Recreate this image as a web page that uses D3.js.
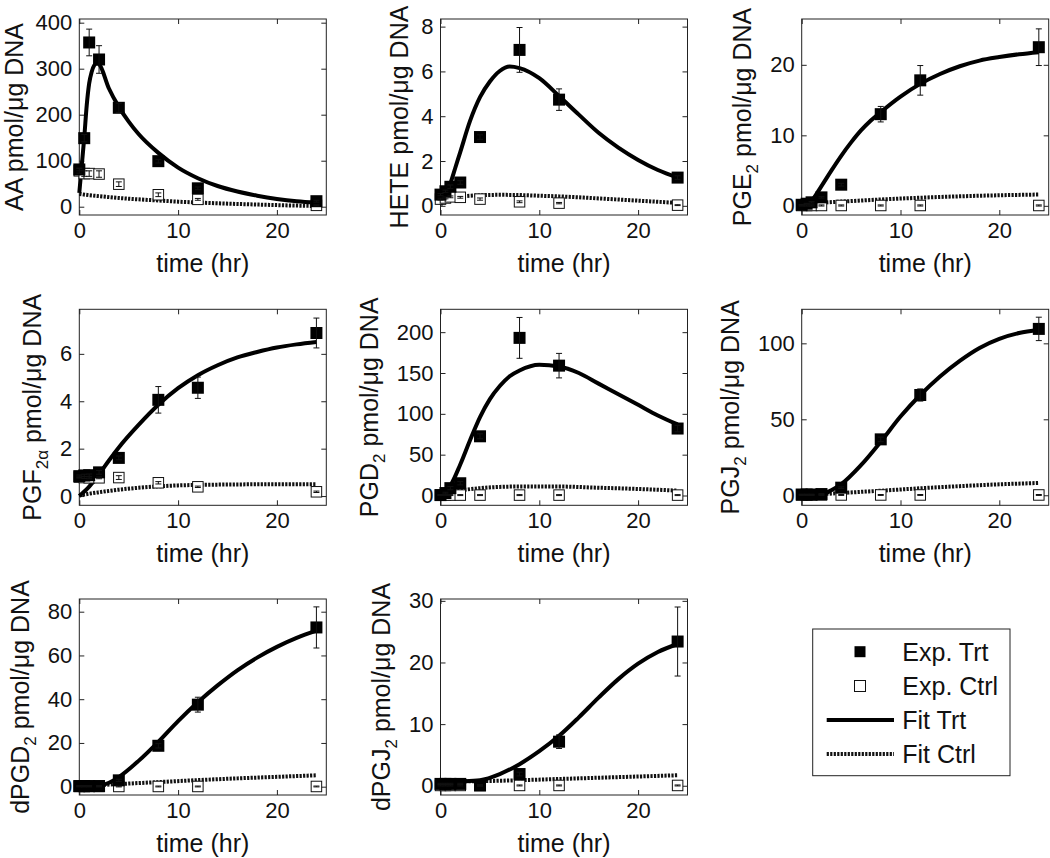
<!DOCTYPE html>
<html><head><meta charset="utf-8">
<script src="https://cdn.jsdelivr.net/npm/d3@7"></script>
<style>
html,body{margin:0;padding:0;background:#fff;}
svg{display:block;font-family:"Liberation Sans",Arial,Helvetica,sans-serif;}
</style></head><body>
<svg id="chart" width="1050" height="858"></svg>
<script>
// ---------------- DATA ----------------
const times = [0, 0.5, 1, 2, 4, 8, 12, 24];
const xTicks = [0, 10, 20];
const xDomain = [0, 25];

// AA
const aaTrt = [81, 149, 357, 320, 215, 99, 40, 12];
const aaTrtErr = [3, 8, 29, 30, 10, 4, 3, 2];
const aaCtrl = [78, 72, 72, 71, 49, 26, 16, 3];
const aaCtrlErr = [5, 6, 6, 7, 5, 4, 2, 1];
const aaFitTrt = [[0,30],[0.25,90],[0.5,150],[0.75,220],[1,268],[1.25,293],[1.5,307],[1.8,312],[2,310],[3,257],[4,217],[5,185],[6,158],[8,117],[10,85],[12,62],[14,45],[16,33],[18,24],[20,17],[22,12],[24,9]];
const aaFitCtrl = [[0,28],[1,25],[2,23],[4,19],[6,16],[8,13.5],[10,11],[12,9],[16,6],[20,3.5],[24,1.5]];
const aaYTicks = [0, 100, 200, 300, 400];
const aaYDomain = [-18, 408];

// HETE
const heteTrt = [0.5, 0.65, 0.85, 1.04, 3.07, 6.96, 4.74, 1.26];
const heteTrtErr = [0.05, 0.05, 0.08, 0.08, 0.1, 1.0, 0.48, 0.08];
const heteCtrl = [0.3, 0.35, 0.4, 0.38, 0.3, 0.18, 0.12, 0.03];
const heteCtrlErr = [0.04, 0.04, 0.04, 0.04, 0.05, 0.04, 0.03, 0.02];
const heteFitTrt = [[0,0.05],[0.5,0.4],[1,1.0],[1.5,1.7],[2,2.4],[3,3.8],[4,4.85],[5,5.55],[6,6.02],[7,6.22],[8,6.15],[10,5.7],[12,4.9],[14,4.07],[16,3.26],[18,2.6],[20,2.05],[22,1.6],[24,1.26]];
const heteFitCtrl = [[0,0.12],[0.5,0.25],[1,0.33],[2,0.41],[4,0.47],[6,0.49],[8,0.48],[10,0.45],[12,0.42],[16,0.33],[20,0.23],[24,0.13]];
const heteYTicks = [0, 2, 4, 6, 8];
const heteYDomain = [-0.41, 8.34];

// PGE2
const pge2Trt = [0.15, 0.3, 0.5, 1.2, 3.0, 13.0, 17.8, 22.5];
const pge2TrtErr = [0.05, 0.05, 0.1, 0.1, 0.2, 1.1, 2.1, 2.6];
const pge2Ctrl = [0.05, 0.05, 0.05, 0.05, 0.05, 0.05, 0.05, 0.05];
const pge2CtrlErr = [0.08, 0.08, 0.08, 0.08, 0.08, 0.08, 0.08, 0.08];
const pge2FitTrt = [[0,0],[0.5,0.1],[1,0.7],[2,2.8],[3,5.0],[4,7.1],[5,9.0],[6,10.7],[7,12.1],[8,13.3],[10,15.5],[12,17.3],[14,18.7],[16,19.8],[18,20.6],[20,21.1],[22,21.5],[24,21.8]];
const pge2FitCtrl = [[0,0.3],[4,0.6],[8,0.9],[12,1.15],[16,1.35],[20,1.5],[24,1.6]];
const pge2YTicks = [0, 10, 20];
const pge2YDomain = [-1.3, 26.5];

// PGF2a
const pgf2aTrt = [0.84, 0.87, 0.88, 1.0, 1.61, 4.06, 4.57, 6.88];
const pgf2aTrtErr = [0.05, 0.05, 0.05, 0.08, 0.08, 0.56, 0.45, 0.63];
const pgf2aCtrl = [0.8, 0.78, 0.77, 0.77, 0.78, 0.56, 0.39, 0.18];
const pgf2aCtrlErr = [0.04, 0.04, 0.04, 0.04, 0.08, 0.05, 0.03, 0.03];
const pgf2aFitTrt = [[0,0],[1,0.4],[2,0.92],[3,1.5],[4,2.05],[6,3.0],[8,3.85],[10,4.55],[12,5.1],[14,5.52],[16,5.85],[18,6.08],[20,6.27],[22,6.4],[24,6.5]];
const pgf2aFitCtrl = [[0,0.03],[1,0.1],[2,0.16],[4,0.27],[6,0.35],[8,0.41],[10,0.45],[12,0.47],[16,0.49],[20,0.5],[24,0.5]];
const pgf2aYTicks = [0, 2, 4, 6];
const pgf2aYDomain = [-0.39, 7.88];

// PGD2
const pgd2Trt = [0.5, 3, 9, 15, 72.5, 193, 159, 82];
const pgd2TrtErr = [0.5, 1, 2, 2, 3, 25, 15, 4];
const pgd2Ctrl = [0.5, 0.5, 0.5, 0.5, 0.5, 0.5, 0.5, 0.5];
const pgd2CtrlErr = [0.6, 0.6, 0.6, 0.6, 0.6, 0.6, 0.6, 0.6];
const pgd2FitTrt = [[0,0],[1,12],[2,38],[3,68],[4,96],[5,118],[6,134],[7,146],[8,153],[10,160],[12,158],[14,150],[16,137],[18,124],[20,111],[22,98],[24,87]];
const pgd2FitCtrl = [[0,0],[1,3],[2,6],[4,9],[6,10.5],[8,11],[12,11],[16,9.5],[20,8],[24,6]];
const pgd2YTicks = [0, 50, 100, 150, 200];
const pgd2YDomain = [-12, 228];

// PGJ2
const pgj2Trt = [0.5, 0.5, 0.5, 0.8, 5, 36.8, 66, 109.5];
const pgj2TrtErr = [0.2, 0.2, 0.2, 0.3, 0.5, 1.5, 4, 7.7];
const pgj2Ctrl = [0.2, 0.2, 0.2, 0.2, 0.2, 0.2, 0.2, 0.2];
const pgj2CtrlErr = [0.3, 0.3, 0.3, 0.3, 0.3, 0.3, 0.3, 0.3];
const pgj2FitTrt = [[0,0],[1,0],[2,0.5],[3,3.3],[4,7.3],[6,19.8],[8,35.2],[10,51.8],[12,66],[14,78.2],[16,88.5],[18,97],[20,103],[22,106.8],[24,109]];
const pgj2FitCtrl = [[0,0],[4,1.5],[8,3],[12,4.6],[16,6],[20,7.2],[24,8.1]];
const pgj2YTicks = [0, 50, 100];
const pgj2YDomain = [-6.6, 122.4];

// dPGD2
const dpgd2Trt = [0.3, 0.3, 0.3, 0.3, 2.9, 18.7, 37.5, 72.8];
const dpgd2TrtErr = [0.2, 0.2, 0.2, 0.2, 0.5, 1.0, 3.4, 9.4];
const dpgd2Ctrl = [0.1, 0.1, 0.1, 0.1, 0.1, 0.1, 0.1, 0.1];
const dpgd2CtrlErr = [0.2, 0.2, 0.2, 0.2, 0.2, 0.2, 0.2, 0.2];
const dpgd2FitTrt = [[0,0],[1,0],[2,0.3],[3,1.8],[4,4.4],[6,11.8],[8,20.5],[10,30],[12,38.6],[14,46.3],[16,53.2],[18,59],[20,63.9],[22,68],[24,71.3]];
const dpgd2FitCtrl = [[0,0.2],[4,1.2],[8,2.1],[12,3],[16,3.8],[20,4.5],[24,5.2]];
const dpgd2YTicks = [0, 20, 40, 60, 80];
const dpgd2YDomain = [-3.8, 85.8];

// dPGJ2
const dpgj2Trt = [0.3, 0.3, 0.3, 0.3, 0.05, 1.9, 7.15, 23.4];
const dpgj2TrtErr = [0.1, 0.1, 0.1, 0.1, 0.1, 0.3, 1.1, 5.6];
const dpgj2Ctrl = [0.05, 0.05, 0.05, 0.05, 0.05, 0.05, 0.05, 0.05];
const dpgj2CtrlErr = [0.08, 0.08, 0.08, 0.08, 0.08, 0.08, 0.08, 0.08];
const dpgj2FitTrt = [[0,0.6],[2,0.7],[4,0.9],[6,1.9],[8,3.5],[10,5.6],[12,8.1],[14,11.1],[16,14.3],[18,17.3],[20,19.8],[22,21.7],[24,23.0]];
const dpgj2FitCtrl = [[0,0.7],[4,0.75],[8,0.9],[12,1.1],[16,1.3],[20,1.5],[24,1.7]];
const dpgj2YTicks = [0, 10, 20, 30];
const dpgj2YDomain = [-1.5, 30.3];

// y-axis labels: [text, isSubscript]
const yLabels = [
  [["AA pmol/μg DNA", false]],
  [["HETE pmol/μg DNA", false]],
  [["PGE", false], ["2", true], [" pmol/μg DNA", false]],
  [["PGF", false], ["2α", true], [" pmol/μg DNA", false]],
  [["PGD", false], ["2", true], [" pmol/μg DNA", false]],
  [["PGJ", false], ["2", true], [" pmol/μg DNA", false]],
  [["dPGD", false], ["2", true], [" pmol/μg DNA", false]],
  [["dPGJ", false], ["2", true], [" pmol/μg DNA", false]]
];
const xLabel = "time (hr)";
const legendLabels = ["Exp. Trt", "Exp. Ctrl", "Fit Trt", "Fit Ctrl"];

// table built from the arrays above
const panels = [
  {trt: aaTrt, trtErr: aaTrtErr, ctrl: aaCtrl, ctrlErr: aaCtrlErr, fitT: aaFitTrt, fitC: aaFitCtrl, yTicks: aaYTicks, yDomain: aaYDomain},
  {trt: heteTrt, trtErr: heteTrtErr, ctrl: heteCtrl, ctrlErr: heteCtrlErr, fitT: heteFitTrt, fitC: heteFitCtrl, yTicks: heteYTicks, yDomain: heteYDomain},
  {trt: pge2Trt, trtErr: pge2TrtErr, ctrl: pge2Ctrl, ctrlErr: pge2CtrlErr, fitT: pge2FitTrt, fitC: pge2FitCtrl, yTicks: pge2YTicks, yDomain: pge2YDomain},
  {trt: pgf2aTrt, trtErr: pgf2aTrtErr, ctrl: pgf2aCtrl, ctrlErr: pgf2aCtrlErr, fitT: pgf2aFitTrt, fitC: pgf2aFitCtrl, yTicks: pgf2aYTicks, yDomain: pgf2aYDomain},
  {trt: pgd2Trt, trtErr: pgd2TrtErr, ctrl: pgd2Ctrl, ctrlErr: pgd2CtrlErr, fitT: pgd2FitTrt, fitC: pgd2FitCtrl, yTicks: pgd2YTicks, yDomain: pgd2YDomain},
  {trt: pgj2Trt, trtErr: pgj2TrtErr, ctrl: pgj2Ctrl, ctrlErr: pgj2CtrlErr, fitT: pgj2FitTrt, fitC: pgj2FitCtrl, yTicks: pgj2YTicks, yDomain: pgj2YDomain},
  {trt: dpgd2Trt, trtErr: dpgd2TrtErr, ctrl: dpgd2Ctrl, ctrlErr: dpgd2CtrlErr, fitT: dpgd2FitTrt, fitC: dpgd2FitCtrl, yTicks: dpgd2YTicks, yDomain: dpgd2YDomain},
  {trt: dpgj2Trt, trtErr: dpgj2TrtErr, ctrl: dpgj2Ctrl, ctrlErr: dpgj2CtrlErr, fitT: dpgj2FitTrt, fitC: dpgj2FitCtrl, yTicks: dpgj2YTicks, yDomain: dpgj2YDomain}
];
panels.forEach((p, i) => p.label = yLabels[i]);

// ---------------- LAYOUT / STYLE ----------------
const colLeft = [79.3, 440.5, 801.7];
const rowTop = [19, 309.3, 599];
const W = 247, H = 196;
const TICK = 5;
const TICK_FS = 22, LABEL_FS = 25;
const FILLED = 12, OPEN = 10.5, CAP = 6;
const DOT_DASH = "2.2,1.3";

const svg = d3.select("#chart");

function drawPanel(p, x0, y0) {
  const g = svg.append("g").attr("transform", `translate(${x0},${y0})`);
  const x = d3.scaleLinear().domain(xDomain).range([0, W]);
  const y = d3.scaleLinear().domain(p.yDomain).range([H, 0]);

  g.append("rect").attr("width", W).attr("height", H).attr("fill", "#fff");

  const styleAxis = sel => {
    sel.select(".domain").remove();
    sel.selectAll(".tick line").attr("stroke", "#222");
    sel.selectAll("text").attr("fill", "#111").style("font-size", TICK_FS + "px")
      .style("font-family", '"Liberation Sans",Arial,sans-serif');
  };
  g.append("g").attr("transform", `translate(0,${H})`)
    .call(d3.axisBottom(x).tickValues(xTicks).tickSizeInner(-TICK).tickSizeOuter(0).tickPadding(7))
    .call(styleAxis);
  g.append("g").call(d3.axisTop(x).tickValues(xTicks).tickSizeInner(-TICK).tickSizeOuter(0).tickFormat(""))
    .call(styleAxis);
  const gy = g.append("g")
    .call(d3.axisLeft(y).tickValues(p.yTicks).tickSizeInner(-TICK).tickSizeOuter(0).tickPadding(7))
    .call(styleAxis);
  g.append("g").attr("transform", `translate(${W},0)`)
    .call(d3.axisRight(y).tickValues(p.yTicks).tickSizeInner(-TICK).tickSizeOuter(0).tickFormat(""))
    .call(styleAxis);

  g.append("rect").attr("width", W).attr("height", H)
    .attr("fill", "none").attr("stroke", "#222").attr("stroke-width", 1);

  // fits
  const line = d3.line().x(d => x(d[0])).y(d => y(d[1])).curve(d3.curveMonotoneX);
  g.append("path").datum(p.fitC).attr("d", line).attr("fill", "none")
    .attr("stroke", "#111").attr("stroke-width", 4).attr("stroke-dasharray", DOT_DASH);
  g.append("path").datum(p.fitT).attr("d", line).attr("fill", "none")
    .attr("stroke", "#000").attr("stroke-width", 4).attr("stroke-linejoin", "round");

  // markers
  const ctrlPts = times.map((t, i) => ({t, v: p.ctrl[i], e: p.ctrlErr[i]}));
  const trtPts = times.map((t, i) => ({t, v: p.trt[i], e: p.trtErr[i]}));
  g.append("g").selectAll("rect").data(ctrlPts).join("rect")
    .attr("x", d => x(d.t) - OPEN / 2).attr("y", d => y(d.v) - OPEN / 2)
    .attr("width", OPEN).attr("height", OPEN)
    .attr("fill", "#fff").attr("stroke", "#111").attr("stroke-width", 1);
  g.append("g").selectAll("rect").data(trtPts).join("rect")
    .attr("x", d => x(d.t) - FILLED / 2).attr("y", d => y(d.v) - FILLED / 2)
    .attr("width", FILLED).attr("height", FILLED).attr("fill", "#000");

  // error bars
  const eb = g.append("g").attr("stroke", "#111").attr("stroke-width", 1);
  [...ctrlPts, ...trtPts].forEach(d => {
    const cx = x(d.t), y1 = y(d.v - d.e), y2 = y(d.v + d.e);
    eb.append("line").attr("x1", cx).attr("x2", cx).attr("y1", y1).attr("y2", y2);
    eb.append("line").attr("x1", cx - CAP / 2).attr("x2", cx + CAP / 2).attr("y1", y1).attr("y2", y1);
    eb.append("line").attr("x1", cx - CAP / 2).attr("x2", cx + CAP / 2).attr("y1", y2).attr("y2", y2);
  });

  // x label
  g.append("text").attr("x", W / 2).attr("y", H + 57).attr("text-anchor", "middle")
    .style("font-size", LABEL_FS + "px").attr("fill", "#111").text(xLabel);

  // y label
  let tickLeft = 0;
  gy.selectAll(".tick text").each(function () {
    tickLeft = Math.min(tickLeft, this.getBBox().x);
  });
  const yl = g.append("text").attr("text-anchor", "middle")
    .style("font-size", LABEL_FS + "px").attr("fill", "#111");
  p.label.forEach(([txt, sub]) => {
    if (sub) {
      yl.append("tspan").attr("dy", 7).style("font-size", "17px").text(txt);
    } else {
      const ts = yl.append("tspan").text(txt);
      if (yl.selectAll("tspan").size() > 1) ts.attr("dy", -7);
    }
  });
  yl.attr("transform", `translate(0,${H / 2}) rotate(-90)`);
  const bb = yl.node().getBBox();
  const lx = tickLeft - 8 - (bb.y + bb.height);
  yl.attr("transform", `translate(${lx},${H / 2}) rotate(-90)`);
}

panels.forEach((p, i) => {
  const r = Math.floor(i / 3), c = i % 3;
  drawPanel(p, colLeft[c], rowTop[r]);
});

// legend
const lg = svg.append("g");
lg.append("rect").attr("x", 812.7).attr("y", 629).attr("width", 197.3).attr("height", 146.7)
  .attr("fill", "#fff").attr("stroke", "#222").attr("stroke-width", 1);
const ly = [651.7, 686, 720, 754];
lg.append("rect").attr("x", 860 - 5.5).attr("y", ly[0] - 5.5).attr("width", 11).attr("height", 11).attr("fill", "#000");
lg.append("rect").attr("x", 860 - 5.5).attr("y", ly[1] - 5.5).attr("width", 11).attr("height", 11)
  .attr("fill", "#fff").attr("stroke", "#111").attr("stroke-width", 1);
lg.append("line").attr("x1", 826.7).attr("x2", 894).attr("y1", ly[2]).attr("y2", ly[2])
  .attr("stroke", "#000").attr("stroke-width", 4);
lg.append("line").attr("x1", 826.7).attr("x2", 894).attr("y1", ly[3]).attr("y2", ly[3])
  .attr("stroke", "#111").attr("stroke-width", 4).attr("stroke-dasharray", DOT_DASH);
legendLabels.forEach((t, i) => {
  lg.append("text").attr("x", 902.3).attr("y", ly[i]).attr("dy", "0.36em")
    .style("font-size", LABEL_FS + "px").attr("fill", "#111").text(t);
});
</script>
</body></html>
